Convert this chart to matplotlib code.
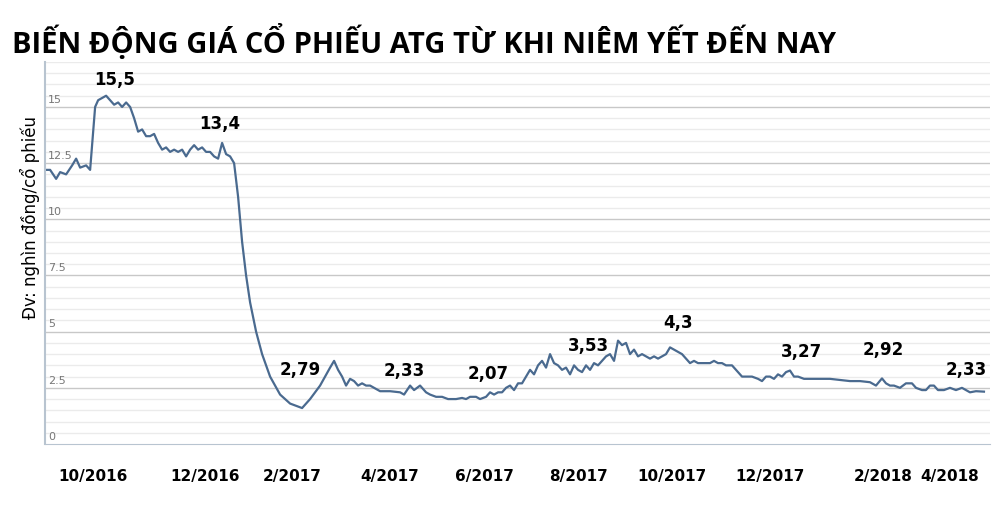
import numpy as np
import matplotlib.pyplot as plt

# position along the (trading-day) axis and price
pos = [45, 50, 56, 60, 66, 72, 76, 80, 86, 90, 95, 98, 102, 106, 110, 114, 118, 122, 126, 130,
       134, 138, 142, 146, 150, 154, 158, 162, 166, 170, 174, 178, 182, 186, 190, 194, 198, 202,
       206, 210, 214, 218, 222, 226, 230, 234, 238, 242, 246, 250, 256, 262, 270, 280, 290, 302,
       310, 320, 330, 334, 338, 342, 346, 350, 354, 358, 362, 366, 370, 374, 380, 390, 400, 404,
       410, 414, 420, 426, 430, 436, 442, 448, 452, 456, 462, 466, 470, 476, 480, 486, 490, 494,
       498, 502, 506, 510, 514, 518, 522, 526, 530, 534, 538, 542, 546, 550, 554, 558, 562, 566,
       570, 574, 578, 582, 586, 590, 594, 598, 602, 606, 610, 614, 618, 622, 626, 630, 634, 638,
       642, 646, 650, 654, 658, 662, 666, 670, 674, 678, 682, 686, 690, 694, 698, 702, 710, 714,
       718, 722, 726, 732, 736, 742, 748, 752, 758, 762, 766, 770, 774, 778, 782, 786, 790, 794,
       798, 804, 810, 820, 830, 840, 850, 860, 870, 876, 882, 886, 890, 894, 900, 906, 912, 916,
       922, 926, 930, 934, 938, 944, 950, 956, 962, 966, 970, 976, 984]
price = [12.2, 12.2, 11.8, 12.1, 12.0, 12.4, 12.7, 12.3, 12.4, 12.2, 15.0, 15.3, 15.4, 15.5, 15.3,
         15.1, 15.2, 15.0, 15.2, 15.0, 14.5, 13.9, 14.0, 13.7, 13.7, 13.8, 13.4, 13.1, 13.2, 13.0,
         13.1, 13.0, 13.1, 12.8, 13.1, 13.3, 13.1, 13.2, 13.0, 13.0, 12.8, 12.7, 13.4, 12.9, 12.8,
         12.5, 11.0, 9.0, 7.5, 6.3, 5.0, 4.0, 3.0, 2.2, 1.8, 1.6, 2.0, 2.6, 3.4, 3.7, 3.3, 3.0, 2.6,
         2.9, 2.8, 2.6, 2.7, 2.6, 2.6, 2.5, 2.35, 2.35, 2.3, 2.2, 2.6, 2.4, 2.6, 2.3, 2.2, 2.1, 2.1,
         2.0, 2.0, 2.0, 2.05, 2.0, 2.1, 2.1, 2.0, 2.1, 2.3, 2.2, 2.3, 2.3, 2.5, 2.6, 2.4, 2.7, 2.7,
         3.0, 3.3, 3.1, 3.5, 3.7, 3.4, 4.0, 3.6, 3.5, 3.3, 3.4, 3.1, 3.5, 3.3, 3.2, 3.5, 3.3, 3.6,
         3.5, 3.7, 3.9, 4.0, 3.7, 4.6, 4.4, 4.5, 4.0, 4.2, 3.9, 4.0, 3.9, 3.8, 3.9, 3.8, 3.9, 4.0,
         4.3, 4.2, 4.1, 4.0, 3.8, 3.6, 3.7, 3.6, 3.6, 3.6, 3.7, 3.6, 3.6, 3.5, 3.5, 3.3, 3.0, 3.0,
         3.0, 2.9, 2.8, 3.0, 3.0, 2.9, 3.1, 3.0, 3.2, 3.27, 3.0, 3.0, 2.9, 2.9, 2.9, 2.9, 2.85, 2.8,
         2.8, 2.75, 2.6, 2.92, 2.7, 2.6, 2.6, 2.5, 2.7, 2.7, 2.5, 2.4, 2.4, 2.6, 2.6, 2.4, 2.4, 2.5,
         2.4, 2.5, 2.4, 2.3, 2.35, 2.33]

tick_pos = [93, 205, 292, 390, 484, 578, 672, 770, 883, 950]
tick_labels = ['10/2016', '12/2016', '2/2017', '4/2017', '6/2017', '8/2017',
               '10/2017', '12/2017', '2/2018', '4/2018']

note_pos = [115, 220, 300, 404, 488, 588, 678, 802, 883, 966]
note_val = [15.5, 13.4, 2.79, 2.33, 2.07, 3.53, 4.3, 3.27, 2.92, 2.33]
note_y = [15.8, 13.85, 2.9, 2.85, 2.7, 3.95, 5.0, 3.7, 3.8, 2.9]

fig = plt.figure(figsize=(10.03, 5.19), dpi=100)
ax = fig.add_axes([0.045, 0.1445, 0.942, 0.736])

ax.plot(pos, price, color='#4a6a8f', lw=1.6)
ax.set_xlim(45, 990)
ax.set_ylim(0, 17)

for y in np.arange(0.5, 17.01, 0.5):
    major = abs(y % 2.5) < 1e-9
    ax.axhline(y, color='#c8c8c8' if major else '#ebebeb', lw=1.0, zorder=0)
for y in np.arange(0, 15.1, 2.5):
    ax.text(48, y + 0.1, f'{y:g}', fontsize=8, color='#777777', va='bottom', ha='left')

for p, v, yy in zip(note_pos, note_val, note_y):
    ax.text(p, yy, f'{v:g}'.replace('.', ','), fontsize=12, fontweight='bold',
            ha='center', va='bottom')

ax.set_xticks(tick_pos)
ax.set_xticklabels(tick_labels, fontsize=11, fontweight='bold')
ax.tick_params(axis='x', length=0, pad=18)
ax.set_yticks([])
for s in ['top', 'right']:
    ax.spines[s].set_visible(False)
ax.spines['left'].set_color('#b8c4d0')
ax.spines['bottom'].set_color('#b8c4d0')
ax.spines['left'].set_linewidth(1.5)

fig.text(0.03, 0.58, 'Đv: nghìn đồng/cổ phiếu', rotation=90, fontsize=12,
         ha='center', va='center')
fig.text(0.012, 0.92, 'BIẾN ĐỘNG GIÁ CỔ PHIẾU ATG TỪ KHI NIÊM YẾT ĐẾN NAY',
         fontsize=21, fontweight='bold', ha='left', va='center', family='Open Sans')

fig.savefig('out.png', dpi=100)
